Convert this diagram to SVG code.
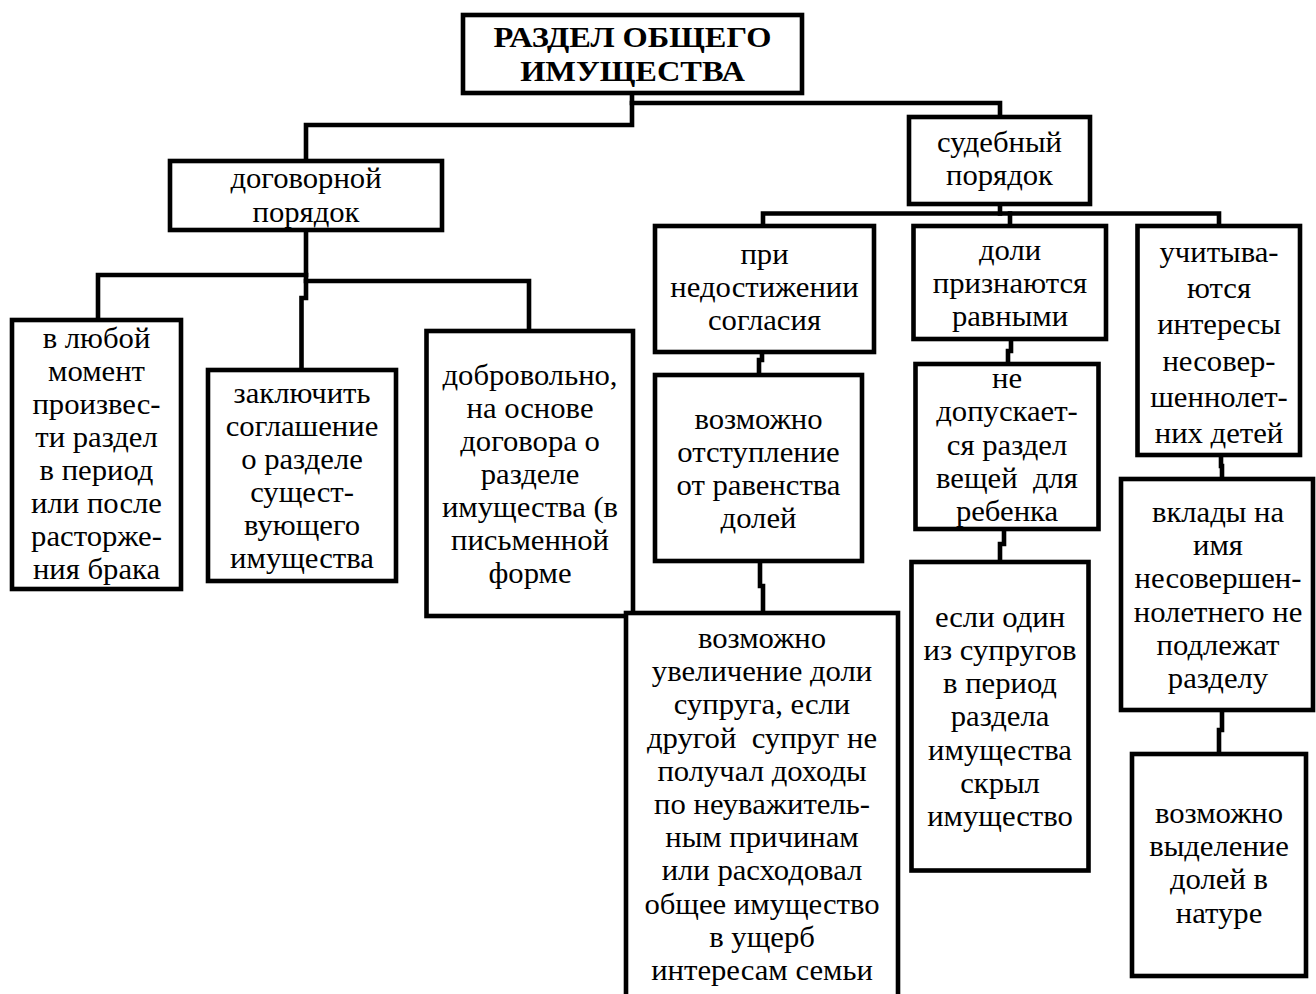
<svg xmlns="http://www.w3.org/2000/svg" width="1316" height="994" viewBox="0 0 1316 994">
<style>
.box{fill:#fff;stroke:#000;stroke-width:4.6}
.t{font-family:"Liberation Serif","Times New Roman",serif;font-size:29.5px;text-anchor:middle;fill:#000}
.tb{font-family:"Liberation Serif","Times New Roman",serif;font-size:30px;font-weight:bold;text-anchor:middle;fill:#000}
.c{fill:none;stroke:#000;stroke-width:4.6;stroke-linejoin:miter;stroke-linecap:square}
</style>
<rect width="1316" height="994" fill="#fff"/>
<g id="connectors">
<path class="c" d="M632,93 V125 H306 V161"/>
<path class="c" d="M632,103 H1000 V117"/>
<path class="c" d="M306,230 V298 H301.5 V370"/>
<path class="c" d="M306,275 H98 V320"/>
<path class="c" d="M306,281 H529 V331"/>
<path class="c" d="M1000,204 V213.5"/>
<path class="c" d="M763,226 V213.5 H1219 V226"/>
<path class="c" d="M1010,213.5 V226"/>
<path class="c" d="M762,352 V360 H759 V375"/>
<path class="c" d="M760,561 V586 H763 V613"/>
<path class="c" d="M1011,339 V351 H1008 V364"/>
<path class="c" d="M1004,529 V544 H1000 V562"/>
<path class="c" d="M1221,455 V466 H1222 V479"/>
<path class="c" d="M1222,710 V730 H1219 V754"/>
</g>
<g id="root">
<rect class="box" x="463" y="15" width="339" height="78"/>
<text class="tb" transform="translate(632.5 0) scale(1.08 1)"><tspan x="0" y="47">РАЗДЕЛ ОБЩЕГО</tspan><tspan x="0" y="81">ИМУЩЕСТВА</tspan></text>
</g>
<g id="dogovor">
<rect class="box" x="170" y="161" width="272" height="69"/>
<text class="t" transform="translate(306 0) scale(1.04 1)"><tspan x="0" y="188">договорной</tspan><tspan x="0" y="222">порядок</tspan></text>
</g>
<g id="sud">
<rect class="box" x="909" y="117" width="181" height="87"/>
<text class="t" transform="translate(999.5 0) scale(1.04 1)"><tspan x="0" y="152">судебный</tspan><tspan x="0" y="185.5">порядок</tspan></text>
</g>
<g id="b1">
<rect class="box" x="12" y="320" width="169" height="269"/>
<text class="t" transform="translate(96.5 0) scale(1.04 1)"><tspan x="0" y="348">в любой</tspan><tspan x="0" y="381">момент</tspan><tspan x="0" y="414">произвес-</tspan><tspan x="0" y="447">ти раздел</tspan><tspan x="0" y="480">в период</tspan><tspan x="0" y="513">или после</tspan><tspan x="0" y="546">расторже-</tspan><tspan x="0" y="579">ния брака</tspan></text>
</g>
<g id="b2">
<rect class="box" x="208" y="370" width="188" height="211"/>
<text class="t" transform="translate(302 0) scale(1.04 1)"><tspan x="0" y="403">заключить</tspan><tspan x="0" y="436">соглашение</tspan><tspan x="0" y="469">о разделе</tspan><tspan x="0" y="502">сущест-</tspan><tspan x="0" y="535">вующего</tspan><tspan x="0" y="568">имущества</tspan></text>
</g>
<g id="b3">
<rect class="box" x="426.5" y="331" width="206.5" height="285"/>
<text class="t" transform="translate(530 0) scale(1.04 1)"><tspan x="0" y="385">добровольно,</tspan><tspan x="0" y="418">на основе</tspan><tspan x="0" y="451">договора о</tspan><tspan x="0" y="484">разделе</tspan><tspan x="0" y="517">имущества (в</tspan><tspan x="0" y="550">письменной</tspan><tspan x="0" y="583">форме</tspan></text>
</g>
<g id="pri">
<rect class="box" x="655" y="226" width="219" height="126"/>
<text class="t" transform="translate(764.5 0) scale(1.04 1)"><tspan x="0" y="264">при</tspan><tspan x="0" y="297">недостижении</tspan><tspan x="0" y="330">согласия</tspan></text>
</g>
<g id="doli">
<rect class="box" x="913.5" y="226" width="192.5" height="113"/>
<text class="t" transform="translate(1010 0) scale(1.04 1)"><tspan x="0" y="260">доли</tspan><tspan x="0" y="293">признаются</tspan><tspan x="0" y="326">равными</tspan></text>
</g>
<g id="uch">
<rect class="box" x="1137.5" y="226" width="162.5" height="229"/>
<text class="t" transform="translate(1219 0) scale(1.04 1)"><tspan x="0" y="262">учитыва-</tspan><tspan x="0" y="298">ются</tspan><tspan x="0" y="334">интересы</tspan><tspan x="0" y="371">несовер-</tspan><tspan x="0" y="407">шеннолет-</tspan><tspan x="0" y="443">них детей</tspan></text>
</g>
<g id="otst">
<rect class="box" x="655" y="375" width="207" height="186"/>
<text class="t" transform="translate(758.5 0) scale(1.04 1)"><tspan x="0" y="429">возможно</tspan><tspan x="0" y="462">отступление</tspan><tspan x="0" y="495">от равенства</tspan><tspan x="0" y="528">долей</tspan></text>
</g>
<g id="uvel">
<rect class="box" x="626" y="613" width="272" height="420"/>
<text class="t" xml:space="preserve" transform="translate(762 0) scale(1.04 1)"><tspan x="0" y="648">возможно</tspan><tspan x="0" y="681.2">увеличение доли</tspan><tspan x="0" y="714.4">супруга, если</tspan><tspan x="0" y="747.6">другой  супруг не</tspan><tspan x="0" y="780.8">получал доходы</tspan><tspan x="0" y="814">по неуважитель-</tspan><tspan x="0" y="847.2">ным причинам</tspan><tspan x="0" y="880.4">или расходовал</tspan><tspan x="0" y="913.6">общее имущество</tspan><tspan x="0" y="946.8">в ущерб</tspan><tspan x="0" y="980">интересам семьи</tspan></text>
</g>
<g id="nedop">
<rect class="box" x="915.5" y="364" width="183" height="165"/>
<text class="t" xml:space="preserve" transform="translate(1007 0) scale(1.04 1)"><tspan x="0" y="388">не</tspan><tspan x="0" y="421.3">допускает-</tspan><tspan x="0" y="454.6">ся раздел</tspan><tspan x="0" y="487.9">вещей  для</tspan><tspan x="0" y="521.2">ребенка</tspan></text>
</g>
<g id="esli">
<rect class="box" x="911.5" y="562" width="177" height="308.5"/>
<text class="t" transform="translate(1000 0) scale(1.04 1)"><tspan x="0" y="627">если один</tspan><tspan x="0" y="660.2">из супругов</tspan><tspan x="0" y="693.3">в период</tspan><tspan x="0" y="726.5">раздела</tspan><tspan x="0" y="759.7">имущества</tspan><tspan x="0" y="792.8">скрыл</tspan><tspan x="0" y="826">имущество</tspan></text>
</g>
<g id="vklady">
<rect class="box" x="1121" y="479" width="192" height="231"/>
<text class="t" transform="translate(1218 0) scale(1.04 1)"><tspan x="0" y="522">вклады на</tspan><tspan x="0" y="555.2">имя</tspan><tspan x="0" y="588.4">несовершен-</tspan><tspan x="0" y="621.6">нолетнего не</tspan><tspan x="0" y="654.8">подлежат</tspan><tspan x="0" y="688">разделу</tspan></text>
</g>
<g id="vydel">
<rect class="box" x="1132" y="754" width="174" height="222"/>
<text class="t" transform="translate(1219 0) scale(1.04 1)"><tspan x="0" y="823">возможно</tspan><tspan x="0" y="856.2">выделение</tspan><tspan x="0" y="889.4">долей в</tspan><tspan x="0" y="922.6">натуре</tspan></text>
</g>
</svg>
